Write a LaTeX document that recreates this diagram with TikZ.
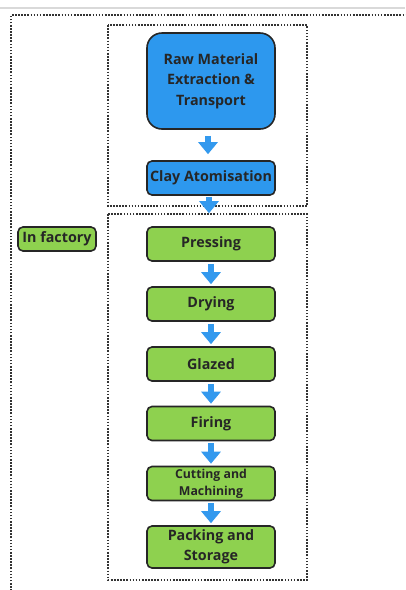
\documentclass[tikz,border=0pt]{standalone}
\usepackage{fontspec}
\setmainfont{Open Sans}
\usetikzlibrary{arrows.meta}
\definecolor{boxblue}{HTML}{2D98EE}
\definecolor{boxgreen}{HTML}{8ED14F}
\definecolor{arrblue}{HTML}{3399EE}
\definecolor{txt}{HTML}{262626}
\definecolor{dotc}{HTML}{333333}
\tikzset{
  stepbox/.style={draw=txt, line width=1.6pt, rounded corners=5pt, minimum width=128pt, minimum height=34pt, inner sep=1pt, align=center, font=\bfseries\fontsize{14.3}{20.5}\selectfont, text=txt},
  bluebox/.style={stepbox, fill=boxblue},
  greenbox/.style={stepbox, fill=boxgreen},
  dotbox/.style={draw=dotc, line width=1.8pt, dash pattern=on 1.6pt off 1.5pt},
  arr/.style={draw=arrblue, line width=6pt, -{Triangle[width=19pt,length=12pt]}}
}
\begin{document}
\begin{tikzpicture}[x=1pt,y=-1pt]
\useasboundingbox (0,0) rectangle (405,590);
\fill[white] (0,0) rectangle (405,590);
\draw[gray!30, line width=1.5pt] (0,8) -- (405,8);
% outer dotted frame
\draw[dotbox] (11,600) -- (11,15) -- (420,15);
% group boxes
\draw[dotbox] (108,25) rectangle (307,206);
\draw[dotbox] (108,214) rectangle (307,580);
% nodes
\node[bluebox, rounded corners=15pt, minimum height=96pt] (raw) at (211,81) {Raw Material\\Extraction \&\\Transport};
\node[bluebox] (clay) at (211,178) {Clay Atomisation};
\node[greenbox, minimum width=78pt, minimum height=24pt] (inf) at (57,239) {In factory};
\node[greenbox] (press) at (211,244) {Pressing};
\node[greenbox] (dry) at (211,304) {Drying};
\node[greenbox] (glaze) at (211,364) {Glazed};
\node[greenbox] (fire) at (211,423.5) {Firing};
\node[greenbox, font=\bfseries\fontsize{12.3}{17}\selectfont] (cut) at (211,483.5) {Cutting and\\Machining};
\node[greenbox, minimum height=42pt] (pack) at (211,547) {Packing and\\Storage};
% arrows
\draw[arr, shorten <=6pt, shorten >=6pt] ([xshift=-3pt]raw.south) -- ([xshift=-3pt]clay.north);
\draw[arr, shorten <=1pt, shorten >=13pt] ([xshift=-2pt]clay.south) -- ([xshift=-2pt]press.north);
\draw[arr, shorten <=2pt, shorten >=2pt] (press) -- (dry);
\draw[arr, shorten <=2pt, shorten >=2pt] (dry) -- (glaze);
\draw[arr, shorten <=2pt, shorten >=2pt] (glaze) -- (fire);
\draw[arr, shorten <=2pt, shorten >=2pt] (fire) -- (cut);
\draw[arr, shorten <=2pt, shorten >=2pt] (cut) -- (pack);
\end{tikzpicture}
\end{document}
